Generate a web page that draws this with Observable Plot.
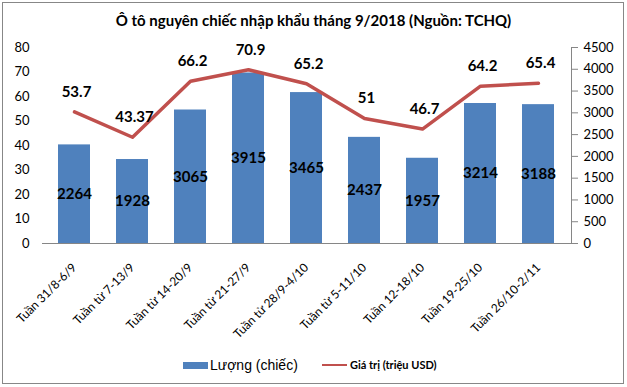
<!DOCTYPE html>
<html><head><meta charset="utf-8">
<script src="https://cdn.jsdelivr.net/npm/d3@7"></script>
<script src="https://cdn.jsdelivr.net/npm/@observablehq/plot@0.6"></script>
<style>
html,body{margin:0;padding:0;background:#fff;}
#wrap{position:relative;width:627px;height:387px;background:#fff;overflow:hidden;}
#border{position:absolute;left:2px;top:2px;width:622px;height:382px;border:1px solid #878787;box-sizing:border-box;pointer-events:none;}
#title{position:absolute;left:0;top:11px;width:627px;text-align:center;font:bold 15px Lato,sans-serif;color:#000;white-space:nowrap;}
.lg{position:absolute;white-space:nowrap;color:#000;}
#plot{position:absolute;left:0;top:0;}
</style></head>
<body>
<div id="wrap">
  <div id="plot"></div>
  <div id="title"></div>
  <div id="legend"></div>
  <div id="border"></div>
</div>
<script>
const title = "Ô tô nguyên chiếc nhập khẩu tháng 9/2018 (Nguồn: TCHQ)";
const weeks = ["Tuần 31/8-6/9","Tuần từ 7-13/9","Tuần từ 14-20/9","Tuần từ 21-27/9","Tuần từ 28/9-4/10","Tuần từ 5-11/10","Tuần 12-18/10","Tuần 19-25/10","Tuần 26/10-2/11"];
const volume = [2264,1928,3065,3915,3465,2437,1957,3214,3188];
const value = [53.7,43.37,66.2,70.9,65.2,51,46.7,64.2,65.4];
const leftTicks = [0,10,20,30,40,50,60,70,80];
const rightTicks = [0,500,1000,1500,2000,2500,3000,3500,4000,4500];
const seriesNames = ["Lượng (chiếc)","Giá trị (triệu USD)"];
const leftMax = 80, rightMax = 4500;
const k = leftMax / rightMax;

const rows = weeks.map((w,i)=>({week:w, volume:volume[i], value:value[i], volY:volume[i]*k}));

const chart = Plot.plot({
  width:627, height:387,
  marginTop:47, marginBottom:144, marginLeft:42, marginRight:56,
  style:{fontFamily:"Lato, sans-serif", background:"transparent", color:"#000"},
  x:{domain:weeks, paddingInner:0.44, paddingOuter:0.22, axis:null, label:null},
  y:{domain:[0,leftMax], axis:null, label:null},
  marks:[
    Plot.barY(rows,{x:"week", y:"volY", fill:"#4F81BD"}),
    Plot.ruleY([0],{stroke:"#868686"}),
    Plot.frame({anchor:"right", stroke:"#868686"}),
    Plot.axisX({tickSize:0, tickRotate:-45, tickPadding:22, dx:0, fontSize:12, label:null}),
    Plot.axisY(leftTicks,{anchor:"left", tickSize:0, tickPadding:13, fontSize:13, label:null}),
    Plot.axisY(rightTicks.map(v=>v*k),{anchor:"right", tickSize:6, tickPadding:6, fontSize:13, label:null, stroke:"#868686",
      tickFormat:d=>String(Math.round(d/k))}),
    Plot.lineY(rows,{x:"week", y:"value", stroke:"#C0504D", strokeWidth:3.5}),
    Plot.text(rows,{x:"week", y:d=>d.volY/2, text:d=>String(d.volume), fontWeight:"bold", fontSize:15}),
    Plot.text(rows,{x:"week", y:"value", text:d=>String(d.value), dy:-20, dx:2, fontWeight:"bold", fontSize:15})
  ]
});
document.getElementById("plot").appendChild(chart);
document.getElementById("title").textContent = title;

const lg = document.getElementById("legend");
lg.innerHTML = `
<div class="lg" style="left:183px;top:362px;width:25px;height:7px;background:#4F81BD"></div>
<div class="lg" style="left:210px;top:356px;font:14px 'Liberation Sans',Arial,sans-serif;line-height:18px">${seriesNames[0]}</div>
<div class="lg" style="left:322px;top:364px;width:25px;height:2px;background:#C0504D"></div>
<div class="lg" style="left:350px;top:357px;font:bold 11px Lato,sans-serif;line-height:16px">${seriesNames[1]}</div>`;
</script>
</body></html>
